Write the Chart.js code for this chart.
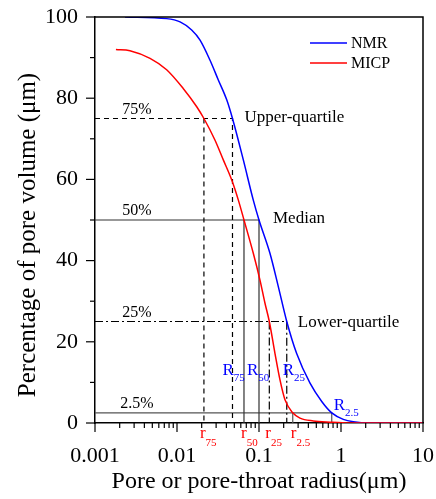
<!DOCTYPE html>
<html>
<head>
<meta charset="utf-8">
<script src="https://cdn.jsdelivr.net/npm/chart.js@4"></script>
<style>
  body { margin: 0; background: #fff; }
  canvas { display: block; }
</style>
</head>
<body>
<canvas id="poreChart" width="436" height="499"></canvas>
<script>
const nmrRadius = [0.00232, 0.00748, 0.0109, 0.0151, 0.0191, 0.0252, 0.0319, 0.0404, 0.0475, 0.0644, 0.0852, 0.1, 0.136, 0.172, 0.218, 0.288, 0.419, 0.582, 0.771, 1.067, 1.413, 2.26, 10];
const nmrPercent = [100, 99.6, 98.8, 96.8, 94.3, 89.4, 84.5, 79.6, 75, 64.8, 54.9, 50, 41.8, 33.6, 25, 17.1, 9.8, 5.3, 2.5, 0.9, 0.3, 0, 0];

const micpRadius = [0.0018, 0.00267, 0.00469, 0.00748, 0.0119, 0.0174, 0.0213, 0.029, 0.0367, 0.0464, 0.056, 0.0656, 0.0852, 0.1028, 0.1183, 0.1336, 0.1567, 0.1803, 0.2075, 0.258, 0.316, 0.459, 0.735, 1.288, 10];
const micpPercent = [92, 91.7, 89.8, 87, 82.4, 77.9, 75, 69.7, 64.8, 59.9, 54.9, 50, 41.8, 35.2, 29.5, 25, 17.1, 10.6, 5.7, 2.5, 1.2, 0.5, 0.2, 0, 0];

// quartile levels and the radius where each curve crosses them
const levels = [75, 50, 25, 2.5];
const levelLabels = ['75%', '50%', '25%', '2.5%'];
const nmrAtLevel = [0.0475, 0.1, 0.218, 0.771];
const micpAtLevel = [0.0213, 0.0656, 0.1336, 0.258];
const nmrSubs = ['75', '50', '25', '2.5'];
const micpSubs = ['75', '50', '25', '2.5'];

const xTickValues = [0.001, 0.01, 0.1, 1, 10];
const xTickLabels = ['0.001', '0.01', '0.1', '1', '10'];

const SERIF = '"Liberation Serif", "Times New Roman", serif';
const BLUE = '#0000ff';
const RED = '#ff0000';

function toPoints(xs, ys) {
  return xs.map((x, i) => ({ x: x, y: ys[i] }));
}

function levelLine(i) {
  const lvl = levels[i];
  return [
    { x: 0.001, y: lvl }, { x: nmrAtLevel[i], y: lvl }, { x: nmrAtLevel[i], y: 0 },
    { x: micpAtLevel[i], y: null },
    { x: micpAtLevel[i], y: lvl }, { x: micpAtLevel[i], y: 0 }
  ];
}

const levelStyles = [
  { color: '#000', dash: [5, 4] },
  { color: '#333', dash: [] },
  { color: '#000', dash: [8, 3, 2, 3] },
  { color: '#555', dash: [] }
];

const decorations = {
  id: 'decorations',
  afterDatasetsDraw(chart) {
    const { ctx, chartArea: a, scales: { x, y } } = chart;
    ctx.save();
    ctx.strokeStyle = '#000';
    ctx.lineWidth = 1.5;

    // right and top frame lines
    ctx.beginPath();
    ctx.moveTo(a.left, a.top);
    ctx.lineTo(a.right, a.top);
    ctx.lineTo(a.right, a.bottom);
    ctx.stroke();

    // tick marks
    ctx.lineWidth = 1.2;
    for (let v = 0; v <= 100; v += 10) {
      const py = y.getPixelForValue(v);
      const len = v % 20 === 0 ? 9 : 5;
      ctx.beginPath();
      ctx.moveTo(a.left, py);
      ctx.lineTo(a.left - len, py);
      ctx.stroke();
    }
    for (let d = 0.001; d < 5; d *= 10) {
      for (let k = 1; k <= 9; k++) {
        const px = x.getPixelForValue(k * d);
        const len = k === 1 ? 9 : 5;
        ctx.beginPath();
        ctx.moveTo(px, a.bottom);
        ctx.lineTo(px, a.bottom + len);
        ctx.stroke();
      }
    }
    const px10 = x.getPixelForValue(10);
    ctx.beginPath();
    ctx.moveTo(px10, a.bottom);
    ctx.lineTo(px10, a.bottom + 9);
    ctx.stroke();

    // axis titles
    ctx.fillStyle = '#000';
    ctx.font = '24px ' + SERIF;
    ctx.textAlign = 'center';
    ctx.textBaseline = 'alphabetic';
    ctx.fillText('Pore or pore-throat radius(μm)', (a.left + a.right) / 2, 488);
    ctx.save();
    ctx.font = '25px ' + SERIF;
    ctx.translate(35, 235);
    ctx.rotate(-Math.PI / 2);
    ctx.fillText('Percentage of pore volume (μm)', 0, 0);
    ctx.restore();

    // legend
    ctx.font = '16px ' + SERIF;
    ctx.textAlign = 'left';
    ctx.textBaseline = 'middle';
    [['NMR', BLUE, 43], ['MICP', RED, 63]].forEach(([name, color, ly]) => {
      ctx.strokeStyle = color;
      ctx.lineWidth = 1.5;
      ctx.beginPath();
      ctx.moveTo(310, ly);
      ctx.lineTo(347, ly);
      ctx.stroke();
      ctx.fillStyle = '#000';
      ctx.fillText(name, 351, ly + 1);
    });

    // level labels
    ctx.font = '16px ' + SERIF;
    ctx.textBaseline = 'alphabetic';
    ctx.textAlign = 'center';
    ctx.fillStyle = '#000';
    levels.forEach((lvl, i) => {
      ctx.fillText(levelLabels[i], a.left + 42, y.getPixelForValue(lvl) - 5);
    });
    ctx.font = '17px ' + SERIF;
    ctx.textAlign = 'left';
    ctx.fillText('Upper-quartile', x.getPixelForValue(nmrAtLevel[0]) + 12, y.getPixelForValue(75) + 3);
    ctx.fillText('Median', x.getPixelForValue(nmrAtLevel[1]) + 14, y.getPixelForValue(50) + 3);
    ctx.fillText('Lower-quartile', x.getPixelForValue(nmrAtLevel[2]) + 11, y.getPixelForValue(25) + 5);

    // R and r labels with subscripts
    function subLabel(letter, sub, lx, ly, color, drop) {
      ctx.fillStyle = color;
      ctx.font = '17px ' + SERIF;
      ctx.fillText(letter, lx, ly);
      const w = ctx.measureText(letter).width;
      ctx.font = '11px ' + SERIF;
      ctx.fillText(sub, lx + w, ly + drop);
    }
    const nmrOffsets = [-10, -12, -4, 2];
    nmrAtLevel.forEach((r, i) => {
      const ly = i === 3 ? y.getPixelForValue(2.5) - 3 : 375;
      subLabel('R', nmrSubs[i], x.getPixelForValue(r) + nmrOffsets[i], ly, BLUE, 6);
    });
    const micpOffsets = [-4, -3, -4, -2];
    micpAtLevel.forEach((r, i) => {
      subLabel('r', micpSubs[i], x.getPixelForValue(r) + micpOffsets[i], a.bottom + 15, RED, 8);
    });
    ctx.restore();
  }
};

document.addEventListener('DOMContentLoaded', () => {
  const ctx = document.getElementById('poreChart').getContext('2d');

  const datasets = [
    {
      label: 'MICP',
      data: toPoints(micpRadius, micpPercent),
      borderColor: RED,
      borderWidth: 1.5,
      pointRadius: 0,
      cubicInterpolationMode: 'monotone'
    },
    {
      label: 'NMR',
      data: toPoints(nmrRadius, nmrPercent),
      borderColor: BLUE,
      borderWidth: 1.5,
      pointRadius: 0,
      cubicInterpolationMode: 'monotone'
    }
  ];
  levels.forEach((lvl, i) => {
    datasets.push({
      label: levelLabels[i],
      data: levelLine(i),
      borderColor: levelStyles[i].color,
      borderDash: levelStyles[i].dash,
      borderWidth: 1.2,
      pointRadius: 0,
      tension: 0,
      spanGaps: false
    });
  });

  new Chart(ctx, {
    type: 'line',
    data: { datasets: datasets },
    options: {
      responsive: false,
      animation: false,
      layout: { padding: { top: 17, right: 13, left: 0, bottom: 0 } },
      plugins: {
        legend: { display: false },
        tooltip: { enabled: false }
      },
      scales: {
        x: {
          type: 'logarithmic',
          min: 0.001,
          max: 10,
          afterBuildTicks: (scale) => {
            scale.ticks = xTickValues.map(v => ({ value: v }));
          },
          afterFit: (scale) => {
            scale.height = 76;
            scale.paddingLeft = 0;
            scale.paddingRight = 0;
          },
          ticks: {
            autoSkip: false,
            maxRotation: 0,
            padding: 12,
            color: '#000',
            font: { family: SERIF, size: 22 },
            callback: (value, index) => xTickLabels[index]
          },
          grid: { display: false },
          border: { display: true, color: '#000', width: 1.5 }
        },
        y: {
          min: 0,
          max: 100,
          afterFit: (scale) => {
            scale.width = 95;
            scale.paddingTop = 0;
            scale.paddingBottom = 0;
          },
          ticks: {
            stepSize: 20,
            padding: 9,
            color: '#000',
            font: { family: SERIF, size: 22 }
          },
          grid: { display: false },
          border: { display: true, color: '#000', width: 1.5 }
        }
      }
    },
    plugins: [decorations]
  });
});
</script>
</body>
</html>
